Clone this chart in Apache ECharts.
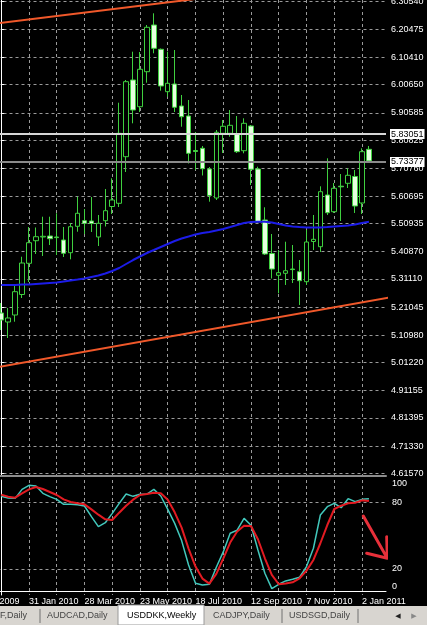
<!DOCTYPE html>
<html>
<head>
<meta charset="utf-8">
<script src="https://cdn.jsdelivr.net/npm/echarts@6/dist/echarts.min.js"></script>
<style>
  html, body { margin: 0; padding: 0; background: #000; }
  #chart { width: 427px; height: 625px; }
</style>
</head>
<body>
<div id="chart"></div>
<script>
// USDDKK weekly, bar 0 = week of 3 Jan 2010
const opens = [5.1894, 5.1572, 5.1823, 5.2557, 5.3673, 5.4482, 5.4615, 5.4650, 5.4615, 5.4507,
  5.4053, 5.4998, 5.5198, 5.5187, 5.4615, 5.5198, 5.5706, 5.5821, 5.7489, 6.0234,
  5.9278, 6.0531, 6.2202, 6.1333, 5.9815, 6.0091, 5.9303, 5.8945, 5.7711, 5.7789,
  5.7048, 5.6010, 5.8326, 5.8326, 5.8283, 5.7703, 5.8587, 5.7048, 5.5223, 5.4024,
  5.3244, 5.3315, 5.3469, 5.3373, 5.3015, 5.4454, 5.4267, 5.6118, 5.5520, 5.6433,
  5.6537, 5.6780, 5.5831, 5.7753];
const closes = [5.1644, 5.1716, 5.2657, 5.3684, 5.4411, 5.4625, 5.4640, 5.4554, 5.4593, 5.4031,
  5.4983, 5.5463, 5.5105, 5.5098, 5.5105, 5.5556, 5.5939, 5.8326, 6.0173, 5.9160,
  6.0617, 6.2120, 6.1368, 6.0019, 6.0116, 5.9257, 5.8920, 5.7610, 5.7675, 5.7059,
  5.6100, 5.8362, 5.8577, 5.8612, 5.7668, 5.8684, 5.7038, 5.5162, 5.4006, 5.3469,
  5.3337, 5.3408, 5.3448, 5.3051, 5.4436, 5.4532, 5.6236, 5.5484, 5.6358, 5.6411,
  5.6823, 5.5724, 5.7668, 5.7338];
const lows = [5.1286, 5.1000, 5.1583, 5.2431, 5.3004, 5.4006, 5.3935, 5.4328, 5.3970, 5.3899,
  5.3816, 5.4804, 5.4722, 5.4794, 5.4292, 5.4990, 5.5438, 5.5688, 5.6941, 5.8684,
  5.9088, 6.0137, 6.1189, 5.9851, 5.9636, 5.9088, 5.8562, 5.7245, 5.7013, 5.6816,
  5.5878, 5.5939, 5.7621, 5.8204, 5.7621, 5.7610, 5.6476, 5.5134, 5.3970, 5.3129,
  5.2600, 5.2897, 5.2968, 5.2181, 5.2897, 5.4149, 5.4078, 5.5402, 5.5474, 5.5187,
  5.6368, 5.5474, 5.5438, 5.7320];
const highs = [5.2252, 5.2073, 5.2897, 5.3909, 5.4972, 5.4955, 5.5341, 5.5341, 5.5463, 5.4972,
  5.5116, 5.6057, 5.5617, 5.6046, 5.5402, 5.6333, 5.6716, 5.9421, 6.0234, 6.1247,
  6.1236, 6.2202, 6.2621, 6.1361, 6.1247, 6.1307, 5.9697, 5.9518, 5.8373, 5.7872,
  5.7120, 5.8444, 5.8802, 5.9160, 5.8945, 5.8863, 5.8623, 5.7131, 5.5678, 5.4722,
  5.4149, 5.4446, 5.4328, 5.3791, 5.4865, 5.5402, 5.6429, 5.7431, 5.6547, 5.6869,
  5.7073, 5.7013, 5.7789, 5.7872];
// moving average (blue)
const ma = [5.2897, 5.2897, 5.2897, 5.2914, 5.2914, 5.2932, 5.2950, 5.2968, 5.2986, 5.3022,
  5.3058, 5.3093, 5.3129, 5.3183, 5.3237, 5.3308, 5.3398, 5.3505, 5.3648, 5.3791,
  5.3917, 5.4042, 5.4149, 5.4257, 5.4364, 5.4471, 5.4561, 5.4632, 5.4704, 5.4758,
  5.4794, 5.4847, 5.4901, 5.4972, 5.5044, 5.5116, 5.5151, 5.5162, 5.5162, 5.5134,
  5.5080, 5.5026, 5.4990, 5.4972, 5.4955, 5.4955, 5.4955, 5.4972, 5.4990, 5.5008,
  5.5026, 5.5062, 5.5116, 5.5162];
// stochastic %K (main) and %D (signal)
const stochMain = [85.3, 83.8, 83.5, 91.6, 95.2, 94.6, 88.0, 85.0, 82.6, 78.1,
  78.1, 77.8, 76.6, 67.0, 58.0, 61.6, 70.0, 79.0, 87.4, 85.3,
  87.1, 87.4, 91.6, 85.6, 73.6, 61.0, 45.5, 23.6, 7.1, 5.6,
  6.2, 21.5, 35.3, 52.1, 54.8, 65.5, 59.3, 37.1, 16.1, 2.3,
  6.2, 9.2, 10.7, 12.5, 22.1, 38.6, 68.5, 76.0, 79.0, 75.1,
  83.2, 80.5, 82.6, 83.2];
const stochSignal = [86.8, 85.0, 84.1, 88.0, 91.6, 93.7, 91.9, 89.2, 86.5, 82.6,
  80.2, 79.0, 78.1, 73.6, 68.8, 64.6, 64.0, 70.6, 76.9, 82.3,
  86.5, 87.4, 88.6, 88.0, 82.3, 70.9, 57.1, 38.3, 22.1, 11.3,
  6.8, 15.5, 29.3, 43.7, 53.6, 58.9, 58.6, 46.7, 29.6, 14.6,
  6.2, 6.8, 8.0, 11.6, 18.5, 28.1, 43.1, 59.5, 73.9, 76.9,
  79.0, 79.6, 81.7, 81.1];

const priceTicks = [6.30540, 6.20475, 6.10410, 6.00650, 5.90585, 5.80825, 5.70760, 5.60695, 5.50935,
  5.40870, 5.31110, 5.21045, 5.10980, 5.01220, 4.91155, 4.81395, 4.71330, 4.61570];
const gridWeeks = [-4, 0, 4, 8, 12, 16, 20, 24, 28, 32, 36, 40, 44, 48, 52];
const dateTickPos = [-4, 4, 12, 20, 28, 36, 44, 52];
const dateTickLabels = ['6 Dec 2009', '31 Jan 2010', '28 Mar 2010', '23 May 2010', '18 Jul 2010',
  '12 Sep 2010', '7 Nov 2010', '2 Jan 2011'];
const stochLevels = [20, 80];
const stochLabelPos = [3.8, 20, 80, 96.4];
const stochLabels = ['0', '20', '80', '100'];

// drawn objects: trend lines, price lines, arrow
const trendUpper = [[-4, 6.2157], [56, 6.3990]];
const trendLower = [[-4, 4.9804], [56, 5.2451]];
const levelLines = [5.83051, 5.73377];
const arrow = [[52.19, 67.6], [55.65, 29.6], [55.56, 49.0], [55.65, 29.6], [52.68, 34.1]];
const tabs = ['F,Daily', 'AUDCAD,Daily', 'USDDKK,Weekly', 'CADJPY,Daily', 'USDSGD,Daily'];

const FONT = '"Liberation Sans", Arial, sans-serif';
const GRID_LINE = { show: true, lineStyle: { color: '#9a9a9a', type: [3, 3], width: 1 } };

const bars = opens.map((o, i) => [i, o, closes[i], lows[i], highs[i]]);
const idx = arr => arr.map((v, i) => [i, v]);

const chart = echarts.init(document.getElementById('chart'));
chart.setOption({
  backgroundColor: '#000',
  animation: false,
  grid: [
    { left: -26.5, width: 412.5, top: 0, height: 476, containLabel: false, outerBoundsMode: 'none' },
    { left: -26.5, width: 412.5, top: 480, height: 115, containLabel: false, outerBoundsMode: 'none' }
  ],
  xAxis: [
    {
      type: 'value', gridIndex: 0, min: -4, max: 55.46,
      axisLine: { show: true, lineStyle: { color: '#8c8c8c', width: 2 } },
      axisTick: { show: false, customValues: gridWeeks },
      axisLabel: { show: false },
      splitLine: GRID_LINE
    },
    {
      type: 'value', gridIndex: 1, min: -4, max: 55.46,
      axisLine: { show: true, lineStyle: { color: '#fff', width: 1 } },
      axisTick: { show: false, customValues: gridWeeks },
      axisLabel: {
        customValues: dateTickPos,
        formatter: v => dateTickLabels[dateTickPos.indexOf(v)] || '',
        align: 'left', color: '#fff', fontFamily: FONT, fontSize: 9, margin: 2
      },
      splitLine: GRID_LINE
    }
  ],
  yAxis: [
    {
      type: 'value', gridIndex: 0, position: 'right', min: 4.60606, max: 6.30970,
      axisLine: { show: true, lineStyle: { color: '#fff' } },
      axisTick: { show: true, length: 3, customValues: priceTicks, lineStyle: { color: '#fff' } },
      axisLabel: {
        customValues: priceTicks, formatter: v => v.toFixed(5),
        color: '#fff', fontFamily: FONT, fontSize: 9, margin: 5
      },
      splitLine: GRID_LINE
    },
    {
      type: 'value', gridIndex: 1, position: 'right', min: -3.45, max: 100,
      axisLine: { show: true, lineStyle: { color: '#fff' } },
      axisTick: { show: false, customValues: stochLevels },
      axisLabel: {
        customValues: stochLabelPos,
        formatter: v => stochLabels[stochLabelPos.indexOf(v)] || '',
        color: '#fff', fontFamily: FONT, fontSize: 9, margin: 6
      },
      splitLine: GRID_LINE
    }
  ],
  series: [
    {
      type: 'candlestick', xAxisIndex: 0, yAxisIndex: 0, data: bars, barWidth: 5,
      itemStyle: { color: '#000', color0: '#e6ffe0', borderColor: '#3fd03f', borderColor0: '#3fd03f', borderWidth: 1 },
      markLine: {
        silent: true, symbol: ['none', 'none'],
        label: {
          show: true, position: 'end', distance: 4,
          formatter: p => levelLines[p.dataIndex].toFixed(5),
          color: '#000', backgroundColor: '#fff', padding: [1, 1, 0, 1],
          fontFamily: FONT, fontSize: 9
        },
        data: [
          { yAxis: levelLines[0], lineStyle: { color: '#d6d6d6', width: 2, type: 'solid' } },
          { yAxis: levelLines[1], lineStyle: { color: '#8a8a8a', width: 2, type: 'solid' } }
        ]
      }
    },
    {
      type: 'line', xAxisIndex: 0, yAxisIndex: 0, data: idx(ma), symbol: 'none',
      lineStyle: { color: '#1c1ce8', width: 2 }
    },
    {
      type: 'line', xAxisIndex: 0, yAxisIndex: 0, data: trendUpper, symbol: 'none',
      lineStyle: { color: '#f0582a', width: 2 }
    },
    {
      type: 'line', xAxisIndex: 0, yAxisIndex: 0, data: trendLower, symbol: 'none',
      lineStyle: { color: '#f0582a', width: 2 }
    },
    {
      type: 'line', xAxisIndex: 1, yAxisIndex: 1, data: idx(stochMain), symbol: 'none',
      lineStyle: { color: '#42c8bc', width: 1.5 }
    },
    {
      type: 'line', xAxisIndex: 1, yAxisIndex: 1, data: idx(stochSignal), symbol: 'none',
      lineStyle: { color: '#e31b22', width: 2 }
    },
    {
      type: 'line', xAxisIndex: 1, yAxisIndex: 1, data: arrow, symbol: 'none', clip: false,
      lineStyle: { color: '#e8303a', width: 3, cap: 'round', join: 'round' }, z: 5
    }
  ],
  graphic: [
    { type: 'rect', shape: { x: 0, y: 606, width: 427, height: 19 }, style: { fill: '#d8d5d0' }, z: 100 },
    { type: 'rect', shape: { x: 118, y: 605, width: 86, height: 20 }, style: { fill: '#fff', stroke: '#9a9a9a' }, z: 101 },
    { type: 'line', shape: { x1: 40, y1: 609, x2: 40, y2: 623 }, style: { stroke: '#707070' }, z: 101 },
    { type: 'line', shape: { x1: 282, y1: 609, x2: 282, y2: 623 }, style: { stroke: '#707070' }, z: 101 },
    { type: 'line', shape: { x1: 358, y1: 609, x2: 358, y2: 623 }, style: { stroke: '#707070' }, z: 101 },
    { type: 'text', x: 27, y: 616, style: { text: tabs[0], fill: '#444', font: '9px ' + FONT, textAlign: 'right', textVerticalAlign: 'middle' }, z: 102 },
    { type: 'text', x: 47, y: 616, style: { text: tabs[1], fill: '#444', font: '9px ' + FONT, textVerticalAlign: 'middle' }, z: 102 },
    { type: 'text', x: 127, y: 616, style: { text: tabs[2], fill: '#000', font: '9px ' + FONT, textVerticalAlign: 'middle' }, z: 102 },
    { type: 'text', x: 213, y: 616, style: { text: tabs[3], fill: '#444', font: '9px ' + FONT, textVerticalAlign: 'middle' }, z: 102 },
    { type: 'text', x: 289, y: 616, style: { text: tabs[4], fill: '#444', font: '9px ' + FONT, textVerticalAlign: 'middle' }, z: 102 },
    { type: 'text', x: 398, y: 616, style: { text: '◀', fill: '#222', font: '7px "DejaVu Sans"', textAlign: 'center', textVerticalAlign: 'middle' }, z: 102 },
    { type: 'text', x: 414, y: 616, style: { text: '▶', fill: '#888', font: '7px "DejaVu Sans"', textAlign: 'center', textVerticalAlign: 'middle' }, z: 102 }
  ]
});
</script>
</body>
</html>
